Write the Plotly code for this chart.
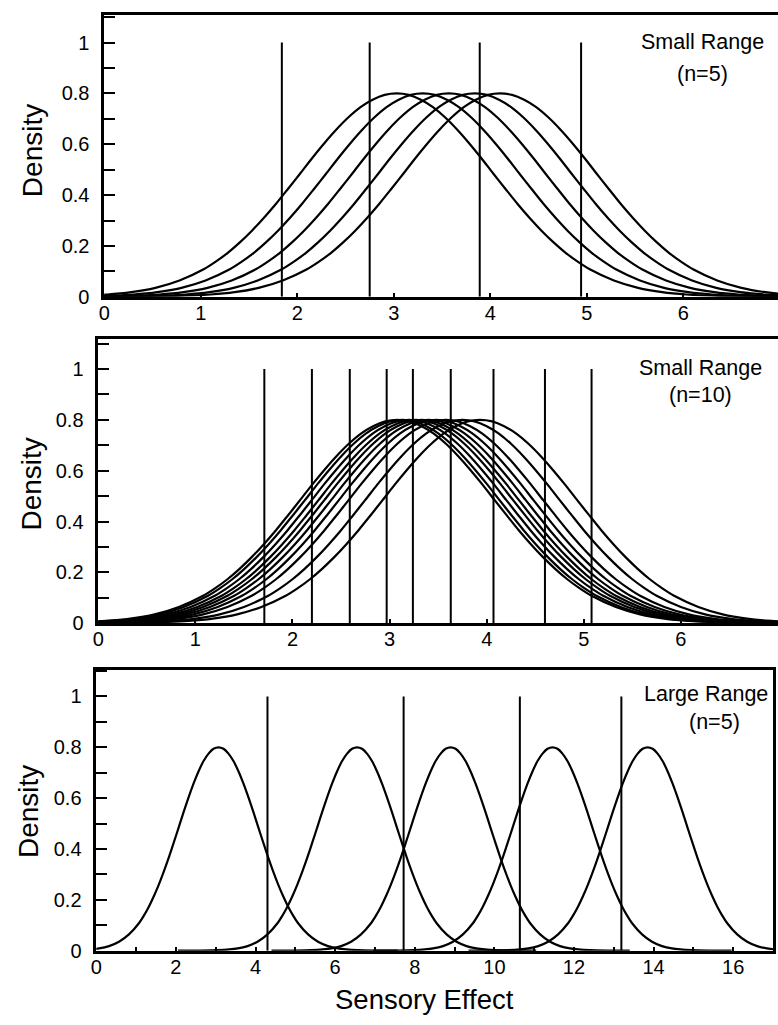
import plotly.graph_objects as go

W, H = 778, 1025

# shape of one density curve: offset from its peak, height
PROFILE_OFFSET = [-4.5, -4.0, -3.5, -3.0, -2.75, -2.5, -2.25, -2.0, -1.875, -1.75, -1.625, -1.5,
                  -1.375, -1.25, -1.125, -1.0, -0.875, -0.75, -0.625, -0.5, -0.375, -0.25, -0.125,
                  0.0,
                  0.125, 0.25, 0.375, 0.5, 0.625, 0.75, 0.875, 1.0, 1.125, 1.25, 1.375, 1.5,
                  1.625, 1.75, 1.875, 2.0, 2.25, 2.5, 2.75, 3.0, 3.5, 4.0, 4.5]
PROFILE_DENSITY = [0.0, 0.0003, 0.002, 0.009, 0.018, 0.035, 0.064, 0.108, 0.138, 0.173, 0.214, 0.260,
                   0.311, 0.366, 0.425, 0.485, 0.546, 0.604, 0.658, 0.706, 0.746, 0.775, 0.794,
                   0.800,
                   0.794, 0.775, 0.746, 0.706, 0.658, 0.604, 0.546, 0.485, 0.425, 0.366, 0.311, 0.260,
                   0.214, 0.173, 0.138, 0.108, 0.064, 0.035, 0.018, 0.009, 0.002, 0.0003, 0.0]

# peak positions of the curves in each panel
TOP_CENTERS = [3.03, 3.30, 3.57, 3.84, 4.10]
MID_CENTERS = [3.08, 3.13, 3.20, 3.27, 3.33, 3.40, 3.48, 3.58, 3.75, 3.93]
BOT_CENTERS = [3.07, 6.55, 8.90, 11.46, 13.85]

# vertical criterion lines
TOP_CRITERIA = [1.84, 2.75, 3.89, 4.94]
MID_CRITERIA = [1.71, 2.20, 2.59, 2.97, 3.24, 3.63, 4.07, 4.60, 5.08]
BOT_CRITERIA = [4.30, 7.72, 10.64, 13.19]
CRITERION_TOP = 1.0

PANEL_LABELS = [("Small Range", "(n=5)"), ("Small Range", "(n=10)"), ("Large Range", "(n=5)")]
Y_TICKS = [0, 0.2, 0.4, 0.6, 0.8, 1]
TOP_X_TICKS = [0, 1, 2, 3, 4, 5, 6]
BOT_X_TICKS = [0, 2, 4, 6, 8, 10, 12, 14, 16]

FONT = "Liberation Sans, Arial, Helvetica, sans-serif"

# pixel layout of the panels: (left, right, top, bottom), x range
PANELS = [
    dict(px=(99, 778), py=(15, 300), xr=[0, 6.98], centers=TOP_CENTERS, crit=TOP_CRITERIA,
         xt=TOP_X_TICKS, minor=None, right_line=False),
    dict(px=(93, 778), py=(343, 630), xr=[0, 7.0], centers=MID_CENTERS, crit=MID_CRITERIA,
         xt=TOP_X_TICKS, minor=None, right_line=False),
    dict(px=(91, 773), py=(677, 961), xr=[0, 17], centers=BOT_CENTERS, crit=BOT_CRITERIA,
         xt=BOT_X_TICKS, minor=1, right_line=True),
]

fig = go.Figure()

for i, p in enumerate(PANELS):
    n = i + 1
    xa = "x" if n == 1 else f"x{n}"
    ya = "y" if n == 1 else f"y{n}"
    # density curves
    for c in p["centers"]:
        fig.add_trace(go.Scatter(
            x=[c + o for o in PROFILE_OFFSET], y=PROFILE_DENSITY,
            mode="lines", line=dict(color="black", width=2.2, shape="spline", smoothing=0.8),
            xaxis=xa, yaxis=ya, showlegend=False, hoverinfo="skip"))
    # criterion lines
    vx, vy = [], []
    for c in p["crit"]:
        vx += [c, c, None]
        vy += [0, CRITERION_TOP, None]
    fig.add_trace(go.Scatter(x=vx, y=vy, mode="lines", line=dict(color="black", width=2),
                             xaxis=xa, yaxis=ya, showlegend=False, hoverinfo="skip"))

    l, r = p["px"]
    t, b = p["py"]
    y0 = 1 - b / H
    y1 = 1 - t / H
    ymax = (b - t) / 257.0
    xaxis = dict(
        domain=[l / W, r / W], range=p["xr"], anchor=ya,
        showline=True, linecolor="black", linewidth=3, mirror=True,
        showgrid=False, zeroline=False,
        ticks="inside", ticklen=4, tickwidth=1.5, tickcolor="black",
        tickvals=p["xt"], ticktext=[str(v) for v in p["xt"]],
        ticklabelstandoff=-4,
        tickfont=dict(family=FONT, size=20, color="black"),
    )
    if p["minor"]:
        xaxis["minor"] = dict(dtick=p["minor"], ticks="inside", ticklen=4, tickwidth=1.5,
                              tickcolor="black", showgrid=False)
    yaxis = dict(
        domain=[y0, y1], range=[0, ymax], anchor=xa,
        showline=True, linecolor="black", linewidth=2.5, mirror=p["right_line"],
        showgrid=False, zeroline=False,
        ticks="inside", ticklen=11, tickwidth=1.5, tickcolor="black",
        tickvals=Y_TICKS, ticktext=[str(v) for v in Y_TICKS],
        ticklabelstandoff=8,
        tickfont=dict(family=FONT, size=20, color="black"),
        minor=dict(dtick=0.1, ticks="inside", ticklen=11, tickwidth=1.5, tickcolor="black",
                   showgrid=False),
    )
    key = "" if n == 1 else str(n)
    fig.layout["xaxis" + key] = xaxis
    fig.layout["yaxis" + key] = yaxis

annotations = []
density_pos = [(27, 152), (26, 489), (22, 820)]
label_pos = [((702, 42), (702, 75)), ((700, 372), (700, 399)), ((705, 702), (714, 730))]
for (dx, dy), (l1, l2), ((ax1, ay1), (ax2, ay2)) in zip(density_pos, PANEL_LABELS, label_pos):
    annotations.append(dict(text="Density", x=dx / W, y=1 - dy / H, xref="paper", yref="paper",
                            textangle=-90, showarrow=False, xanchor="center", yanchor="middle",
                            font=dict(family=FONT, size=28, color="black")))
    annotations.append(dict(text=l1, x=ax1 / W, y=1 - ay1 / H, xref="paper", yref="paper",
                            showarrow=False, xanchor="center", yanchor="middle",
                            font=dict(family=FONT, size=21.5, color="black")))
    annotations.append(dict(text=l2, x=ax2 / W, y=1 - ay2 / H, xref="paper", yref="paper",
                            showarrow=False, xanchor="center", yanchor="middle",
                            font=dict(family=FONT, size=21.5, color="black")))
annotations.append(dict(text="Sensory Effect", x=422 / W, y=1 - 1010 / H, xref="paper", yref="paper",
                        showarrow=False, xanchor="center", yanchor="middle",
                        font=dict(family=FONT, size=27.5, color="black")))

fig.update_layout(
    width=W, height=H, autosize=False,
    margin=dict(l=0, r=0, t=0, b=0, pad=0),
    paper_bgcolor="white", plot_bgcolor="white",
    annotations=annotations,
    showlegend=False,
)

fig.write_html("out.html", include_plotlyjs=True, config={"displayModeBar": False})
